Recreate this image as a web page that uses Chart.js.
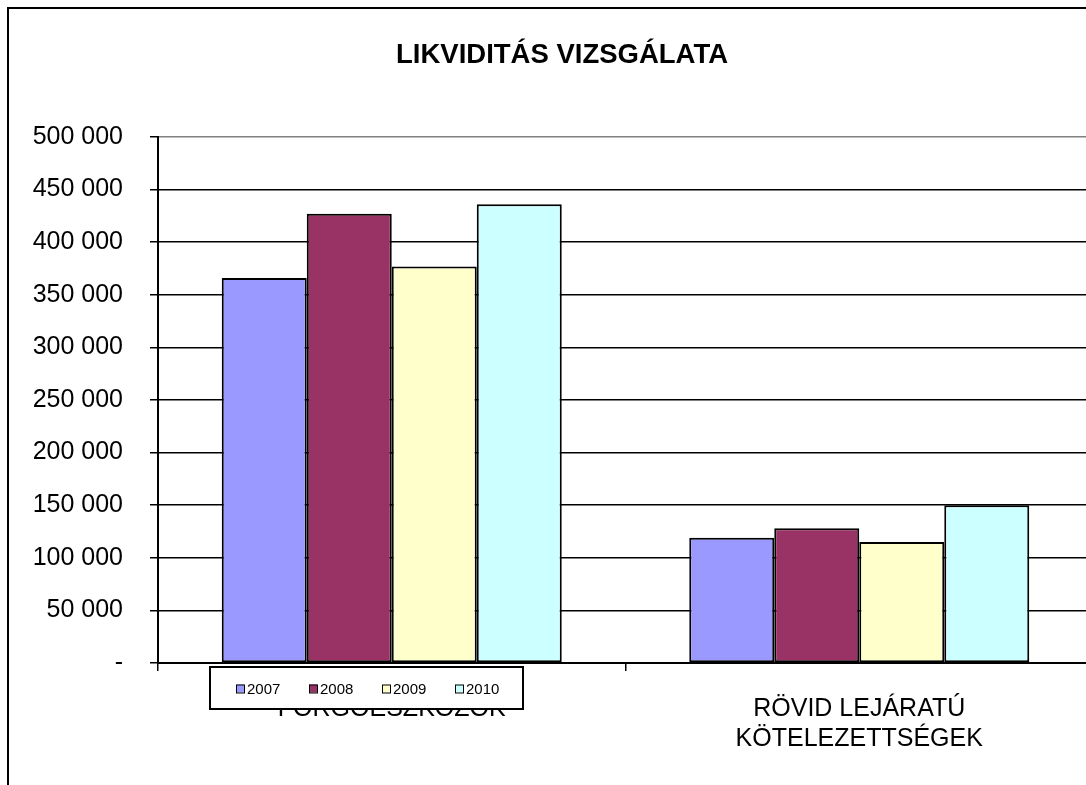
<!DOCTYPE html>
<html>
<head>
<meta charset="utf-8">
<script src="https://cdn.jsdelivr.net/npm/chart.js@4/dist/chart.umd.min.js"></script>
<style>
  html, body { margin: 0; padding: 0; background: #fff; overflow: hidden; width: 1086px; height: 785px; }
  #frame { position: absolute; left: 7px; top: 7px; width: 1300px; height: 1000px; border: 2px solid #000; box-sizing: border-box; }
  #c { position: absolute; left: 0; top: 0; }
</style>
</head>
<body>
<div id="frame"></div>
<canvas id="c" width="1155" height="800"></canvas>
<script>
const titleText = 'LIKVIDITÁS VIZSGÁLATA';
const categories = ['FORGÓESZKÖZÖK', ['RÖVID LEJÁRATÚ', 'KÖTELEZETTSÉGEK']];
const seriesNames = ['2007', '2008', '2009', '2010'];
const series2007 = [366000, 119000];
const series2008 = [427000, 128000];
const series2009 = [377000, 115000];
const series2010 = [436000, 150000];
const seriesColors = ['#9999FF', '#993366', '#FFFFCC', '#CCFFFF'];
const yTickLabels = ['-', '50 000', '100 000', '150 000', '200 000', '250 000', '300 000', '350 000', '400 000', '450 000', '500 000'];

const FONT = 'Arial, "Liberation Sans", sans-serif';
const seriesValues = [series2007, series2008, series2009, series2010];

const boxLegend = {
  id: 'boxLegend',
  afterDraw(chart, args, opts) {
    const ctx = chart.ctx;
    ctx.save();
    ctx.fillStyle = '#fff';
    ctx.fillRect(opts.x, opts.y, opts.w, opts.h);
    ctx.lineWidth = 2;
    ctx.strokeStyle = '#000';
    ctx.strokeRect(opts.x, opts.y, opts.w, opts.h);
    ctx.font = '15px ' + FONT;
    ctx.textBaseline = 'middle';
    ctx.textAlign = 'left';
    const cy = opts.y + opts.h / 2 + 1;
    chart.data.datasets.forEach((ds, i) => {
      const mx = opts.firstX + i * opts.step;
      ctx.fillStyle = ds.backgroundColor;
      ctx.fillRect(mx, cy - 4.5, 8, 8);
      ctx.lineWidth = 1;
      ctx.strokeStyle = '#000';
      ctx.strokeRect(mx + 0.5, cy - 4, 8, 8);
      ctx.fillStyle = '#000';
      ctx.fillText(ds.label, mx + 11, cy + 0.5);
    });
    ctx.restore();
  }
};

const chart = new Chart(document.getElementById('c'), {
  type: 'bar',
  data: {
    labels: categories,
    datasets: seriesNames.map((n, i) => ({
      label: n,
      data: seriesValues[i],
      backgroundColor: seriesColors[i],
      borderColor: '#000',
      borderWidth: 2,
      borderSkipped: false,
      categoryPercentage: 4 / 5.5,
      barPercentage: 1
    }))
  },
  options: {
    responsive: false,
    animation: false,
    layout: { padding: { top: 0, left: 31, right: 62, bottom: 0 } },
    plugins: {
      legend: { display: false },
      tooltip: { enabled: false },
      title: {
        display: true,
        text: titleText,
        color: '#000',
        font: { family: FONT, size: 27.5, weight: 'bold', lineHeight: 1.2 },
        padding: { top: 39, bottom: 65 }
      },
      boxLegend: { x: 210, y: 667, w: 313, h: 42, firstX: 236, step: 73 }
    },
    scales: {
      x: {
        offset: true,
        grid: { offset: true, drawOnChartArea: false, drawTicks: true, tickLength: 8, color: '#000', lineWidth: 1.5 },
        border: { color: '#000', width: 2 },
        ticks: { color: '#000', font: { family: FONT, size: 25, lineHeight: 1.2 }, padding: 23, maxRotation: 0, autoSkip: false },
        afterFit(scale) { scale.height = 137; }
      },
      y: {
        min: 0,
        max: 500000,
        grid: {
          color: (c) => (c.tick && c.tick.value === 500000) ? '#808080' : '#000',
          tickColor: '#000',
          lineWidth: 1.5,
          tickLength: 8,
          drawTicks: true
        },
        border: { color: '#000', width: 2 },
        ticks: {
          stepSize: 50000,
          color: '#000',
          font: { family: FONT, size: 25 },
          padding: 27,
          callback: (v, i) => yTickLabels[i]
        },
        afterFit(scale) { scale.width = 127; }
      }
    }
  },
  plugins: [boxLegend]
});
</script>
</body>
</html>
